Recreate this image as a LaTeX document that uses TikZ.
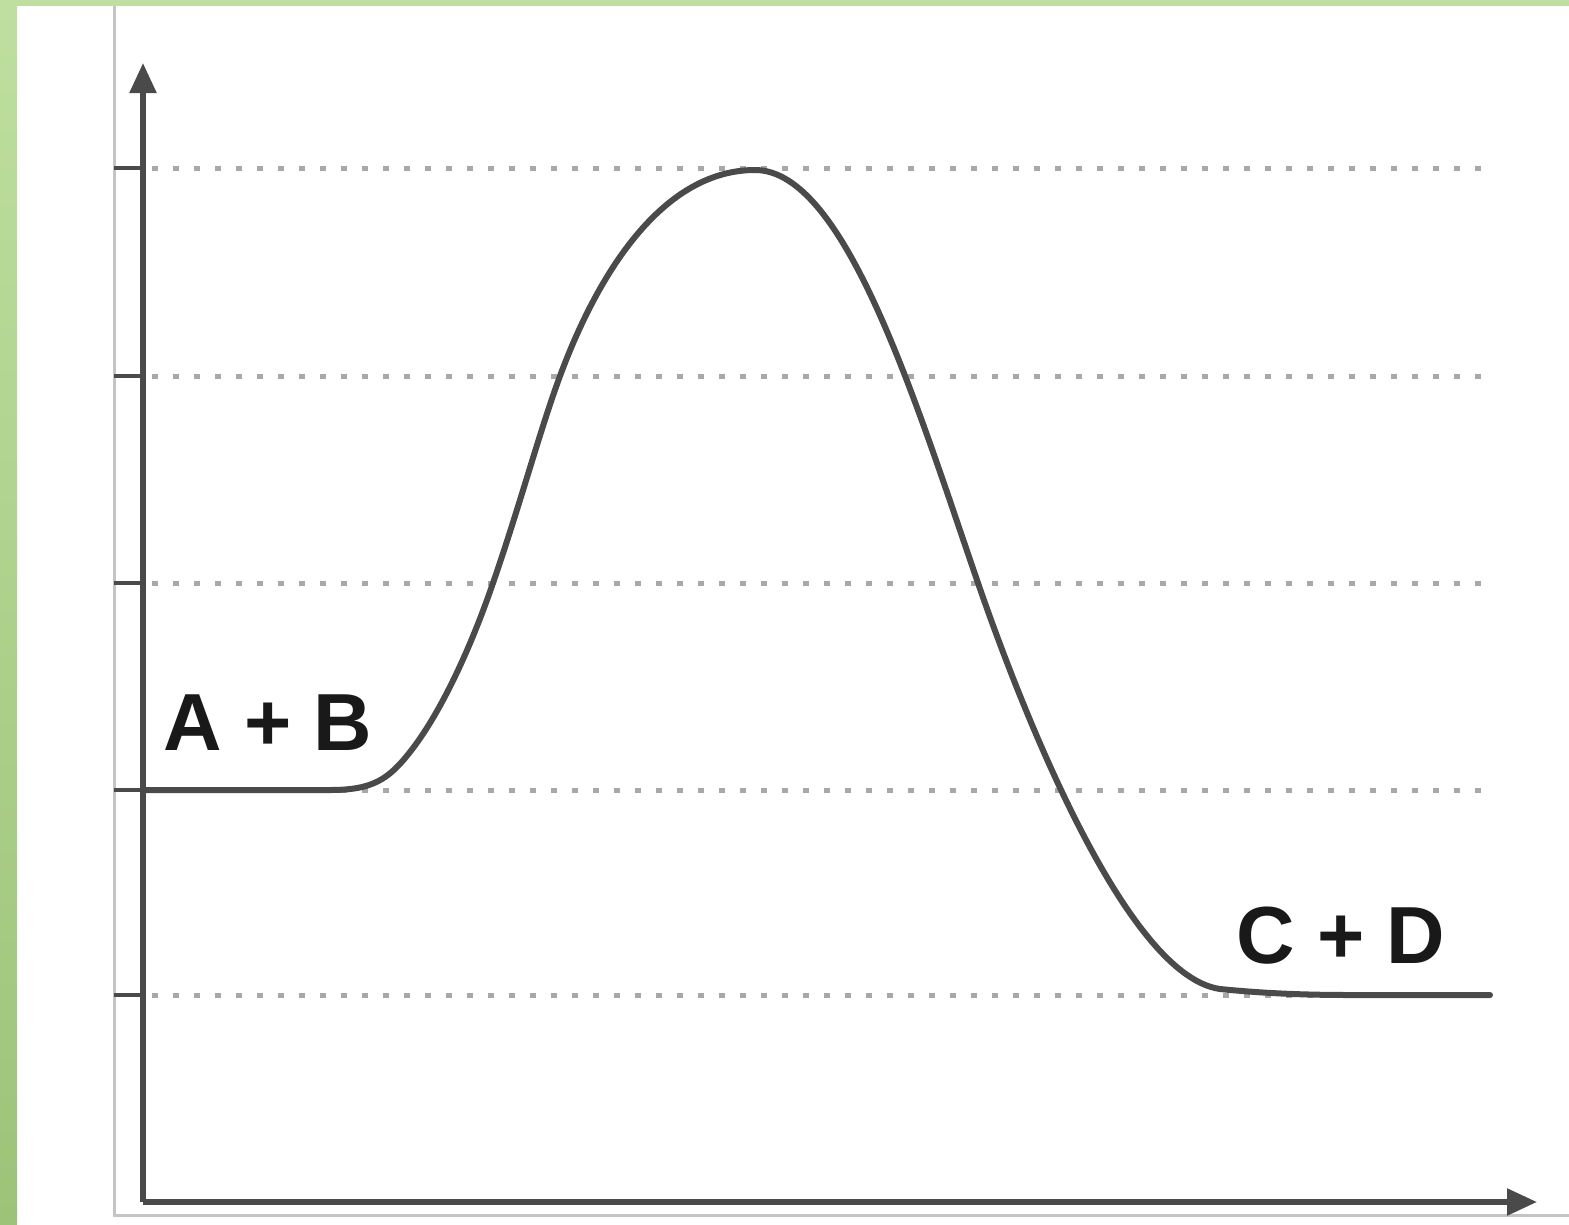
\documentclass[tikz,border=0pt]{standalone}
\usepackage{fontspec}
\setmainfont{Liberation Sans}
\usetikzlibrary{arrows.meta}
\definecolor{gtop}{HTML}{BEDF9F}
\definecolor{gbot}{HTML}{9DC379}
\definecolor{axiscol}{HTML}{4A4A4A}
\definecolor{gridcol}{HTML}{A8A8A8}
\definecolor{framecol}{HTML}{C4C4C4}
\tikzset{
  axisline/.style={draw=axiscol, line width=5.5pt, -{Triangle[length=30pt,width=26pt]}},
  tickline/.style={draw=axiscol, line width=4pt},
  gridline/.style={draw=gridcol, line width=5pt, dash pattern=on 6pt off 15pt},
  curveline/.style={draw=axiscol, line width=6pt, line cap=round, line join=round},
  framefine/.style={draw=framecol, line width=3pt},
  lbl/.style={font=\bfseries\fontsize{81}{88}\selectfont, text=black!90, inner sep=0pt, anchor=base west}
}
\begin{document}
\begin{tikzpicture}[x=1pt,y=-1pt]
\useasboundingbox (0,0) rectangle (1569,1224);
\fill[white] (0,0) rectangle (1569,1224);
% green border
\shade[top color=gtop, bottom color=gbot] (0,0) rectangle (17,1224);
\fill[gtop] (0,0) rectangle (1569,6);
% light frame
\draw[framefine] (114,6) -- (114,1215) -- (1569,1215);
% grid lines
\foreach \yy in {168,376,583,790,995} {
  \draw[gridline] (152,\yy) -- (1490,\yy);
  \draw[tickline] (114,\yy) -- (143,\yy);
}
% axes
\coordinate (origin) at (143,1202);
\coordinate (ytip) at (143,63);
\coordinate (xtip) at (1537,1202);
\draw[axisline] (origin) -- (ytip);
\draw[axisline] (origin) -- (xtip);
% energy curve
\coordinate (start) at (143,790);
\coordinate (peak) at (755,170);
\coordinate (stop) at (1490,995);
\draw[curveline] (start) -- (330,790)
  .. controls (372,790) and (388,780) .. (410,752)
  .. controls (440,714) and (470,650) .. (493,583)
  .. controls (520,505) and (540,430) .. (560,376)
  .. controls (600,268) and (665,170) .. (peak)
  .. controls (845,170) and (915,400) .. (978,583)
  .. controls (1010,676) and (1120,975) .. (1220,989)
  .. controls (1260,993) and (1300,995) .. (1350,995)
  -- (stop);
% labels
\node[lbl] (ab) at (163,750) {A + B};
\node[lbl] (cd) at (1236,963) {C + D};
\end{tikzpicture}
\end{document}
